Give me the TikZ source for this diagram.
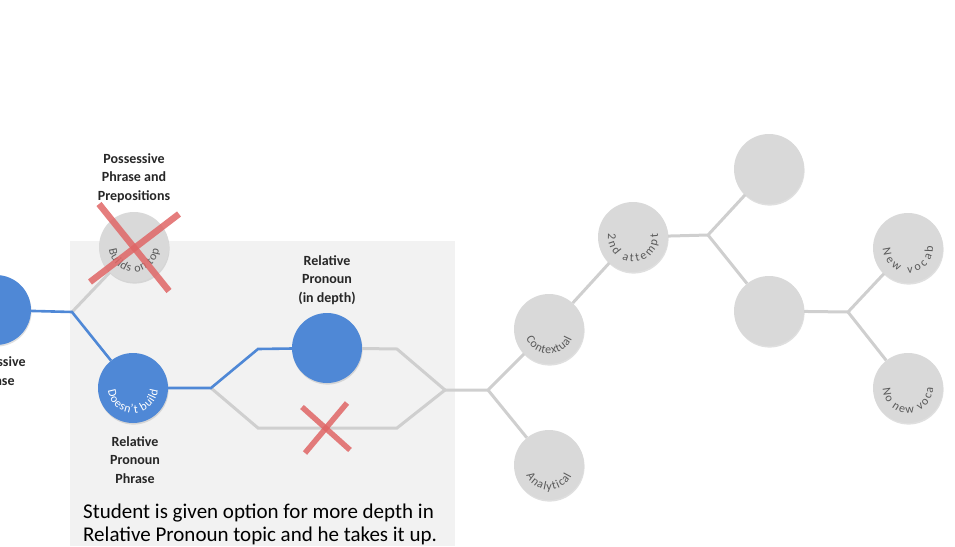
\documentclass[tikz,border=0pt]{standalone}
\usepackage{fontspec}
\setmainfont{Carlito}
\usetikzlibrary{decorations.text,shadows}
\definecolor{pathblue}{HTML}{4F88D6}
\definecolor{bubble}{HTML}{D9D9D9}
\definecolor{wiregray}{HTML}{CFCFCF}
\definecolor{panel}{HTML}{F2F2F2}
\definecolor{crossred}{HTML}{E06666}
\tikzset{topic/.style={circle,minimum size=70pt,inner sep=0pt,fill=bubble,drop shadow={shadow xshift=0.6pt,shadow yshift=-1.6pt,opacity=.25}},done/.style={topic,fill=pathblue},wire/.style={draw=wiregray,line width=3pt},taken/.style={draw=pathblue,line width=2.6pt},tag/.style={font=\bfseries\fontsize{14}{18.5}\selectfont,align=center,text=black!85},crossmark/.style={draw=crossred,line width=6.5pt,opacity=.85}}
\newcommand{\ringtext}[5]{\path[decorate,decoration={text along path,text align=fit to path,text={|\fontsize{12}{14}\selectfont\color{#3}|#2}}] ([shift={(#4:25)}]#1.center) arc[start angle=#4,end angle=#5,radius=25];}

\begin{document}
\begin{tikzpicture}[x=1pt,y=1pt]
\useasboundingbox (0,0) rectangle (955,-546);\clip (0,0) rectangle (955,-546);
\fill[panel] (70,-241) rectangle (455,-546);
\node[done] (posphrase) at (-4,-310) {};\node[topic] (buildtop) at (134,-247) {};\node[done] (nobuild) at (133,-388) {};\node[done] (depth) at (327,-348) {};
\node[topic] (context) at (549,-329) {};\node[topic] (analytic) at (549,-465) {};\node[topic] (second) at (633,-237) {};\node[topic] (upper) at (769,-169) {};\node[topic] (middle) at (769,-311) {};\node[topic] (newvocab) at (908,-248) {};\node[topic] (novocab) at (908,-388) {};
\coordinate (fork1) at (72,-312);\coordinate (fork2) at (211,-388);\coordinate (fork3) at (445,-390);\coordinate (fork4) at (488,-390);\coordinate (fork5) at (708,-235);\coordinate (fork6) at (848,-312);
\coordinate (hi1) at (258,-349);\coordinate (hi2) at (397,-349);\coordinate (lo1) at (258,-428);\coordinate (lo2) at (397,-428);
\draw[wire] (fork1) -- (buildtop);\draw[wire] (fork2) -- (lo1) -- (lo2) -- (fork3);\draw[wire] (depth) -- (hi2) -- (fork3);\draw[wire] (fork3) -- (fork4) -- (context);\draw[wire] (fork4) -- (analytic);\draw[wire] (context) -- (second);\draw[wire] (second) -- (fork5) -- (upper);\draw[wire] (fork5) -- (middle);\draw[wire] (middle) -- (fork6) -- (newvocab);\draw[wire] (fork6) -- (novocab);
\draw[taken] (posphrase) -- (fork1) -- (nobuild);\draw[taken] (nobuild) -- (fork2) -- (hi1) -- (depth);
\ringtext{buildtop}{Builds on top}{black!65}{185}{355}\ringtext{nobuild}{Doesn't build}{white}{185}{355}\ringtext{context}{Contextual}{black!65}{203}{337}\ringtext{second}{2nd attempt}{black!65}{172}{368}\ringtext{analytic}{Analytical}{black!65}{205}{335}\ringtext{newvocab}{New vocab}{black!65}{182}{365}\ringtext{novocab}{No new voca}{black!65}{180}{360}
\node[tag] (posphraselbl) at (-5,-371) {Possessive\\Phrase};\node[tag] (buildlbl) at (134,-178) {Possessive\\Phrase and\\Prepositions};\node[tag] (depthlbl) at (327,-280) {Relative\\Pronoun\\(in depth)};\node[tag] (nobuildlbl) at (135,-460) {Relative\\Pronoun\\Phrase};
\draw[crossmark] ([shift={(-35,43)}]buildtop.center) -- ([shift={(35,-44)}]buildtop.center);\draw[crossmark] ([shift={(45,33)}]buildtop.center) -- ([shift={(-44,-35)}]buildtop.center);
\draw[crossmark,line width=5.5pt] ([shift={(-24,21)}]326,-428) -- ([shift={(24,-22)}]326,-428);\draw[crossmark,line width=5.5pt] ([shift={(21,25)}]326,-428) -- ([shift={(-21,-25)}]326,-428);
\node[anchor=north west,inner sep=0pt,align=left,font=\fontsize{21}{22.5}\selectfont] (note) at (83,-504) {Student is given option for more depth in\\Relative Pronoun topic and he takes it up.};
\end{tikzpicture}
\end{document}
